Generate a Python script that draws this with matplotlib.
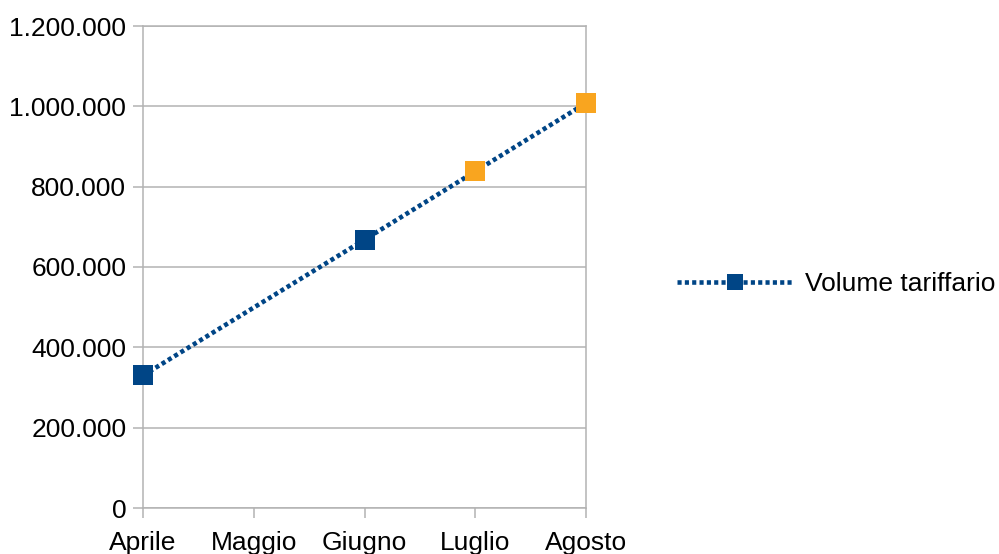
import matplotlib.pyplot as plt
from matplotlib.lines import Line2D
from matplotlib.ticker import FuncFormatter

# monthly values (Maggio has no data point)
mesi = ["Aprile", "Maggio", "Giugno", "Luglio", "Agosto"]
volume = [330000, None, 668000, 838000, 1008000]
colori = ["#004586", None, "#004586", "#f9a51f", "#f9a51f"]

BLU = "#004586"
GRIGIO = "#b3b3b3"

plt.rcParams['font.family'] = ['Liberation Sans', 'DejaVu Sans']

fig = plt.figure(figsize=(9.99, 5.54), dpi=100)
ax = fig.add_axes([143 / 999, 1 - 508 / 554, (586 - 143) / 999, (508 - 26) / 554])

xs = [i for i, v in enumerate(volume) if v is not None]
ys = [volume[i] for i in xs]
ax.plot(xs, ys, color=BLU, lw=3.3, dashes=(0.9, 0.7), zorder=3)
for i in xs:
    ax.plot(i, volume[i], marker="s", ms=14, color=colori[i],
            markeredgewidth=0, zorder=4, clip_on=False)

ax.set_xlim(0, len(mesi) - 1)
ax.set_ylim(0, 1200000)
ax.set_xticks(range(len(mesi)))
ax.set_xticklabels(mesi)
ax.set_yticks(range(0, 1200001, 200000))
ax.yaxis.set_major_formatter(FuncFormatter(lambda v, p: f"{int(v):,}".replace(",", ".")))

ax.grid(axis="y", color=GRIGIO, lw=1.1)
ax.set_axisbelow(True)
for s in ax.spines.values():
    s.set_color(GRIGIO)
    s.set_linewidth(1.1)
ax.tick_params(axis="both", colors=GRIGIO, labelcolor="black", labelsize=19,
               length=7, width=1.1)
ax.tick_params(axis="y", pad=5)
ax.tick_params(axis="x", pad=9.5)

handle = Line2D([], [], color=BLU, lw=3.3, dashes=(0.9, 0.7), marker="s",
                ms=12, markeredgewidth=0)
fig.legend([handle], ["Volume tariffario"], loc="center left",
           bbox_to_anchor=(653 / 999, 1 - 284 / 554), frameon=False,
           fontsize=19, handlelength=4.4, handletextpad=0.45)

fig.savefig("out.png", dpi=100)
